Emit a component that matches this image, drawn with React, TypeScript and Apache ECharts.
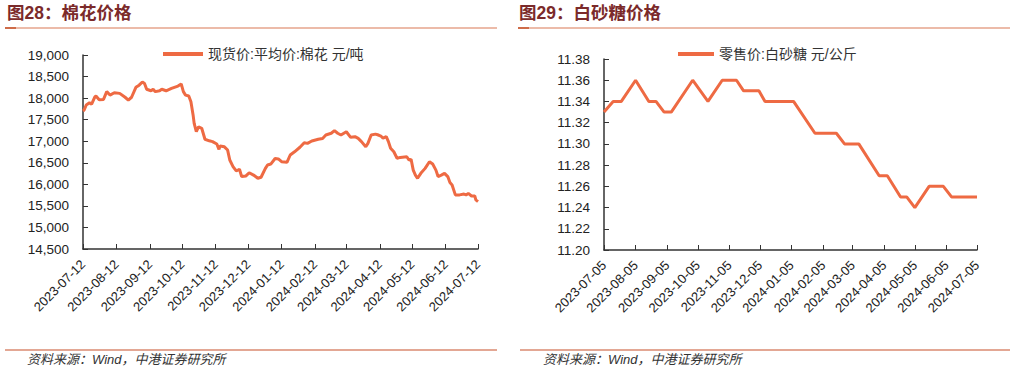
import React, { useEffect, useRef } from "react";
import * as echarts from "echarts";

// ---- Cotton (left) ----
const cottonName = "现货价:平均价:棉花 元/吨";
const cottonDates = [
  "2023-07-12", "2023-07-13", "2023-07-15", "2023-07-18", "2023-07-20", "2023-07-23", "2023-07-24", "2023-07-27", "2023-07-31",
  "2023-08-03", "2023-08-06", "2023-08-10", "2023-08-15", "2023-08-20", "2023-08-23", "2023-08-26", "2023-08-30",
  "2023-09-02", "2023-09-05", "2023-09-07", "2023-09-09", "2023-09-13", "2023-09-15", "2023-09-17", "2023-09-21", "2023-09-23", "2023-09-27",
  "2023-10-02", "2023-10-08", "2023-10-11", "2023-10-13", "2023-10-15", "2023-10-18", "2023-10-20", "2023-10-22", "2023-10-23", "2023-10-25", "2023-10-27", "2023-10-30",
  "2023-11-02", "2023-11-06", "2023-11-09", "2023-11-13", "2023-11-15", "2023-11-16", "2023-11-20", "2023-11-23", "2023-11-25", "2023-11-28",
  "2023-12-01", "2023-12-04", "2023-12-06", "2023-12-10", "2023-12-13", "2023-12-17", "2023-12-21", "2023-12-24", "2023-12-28", "2023-12-30",
  "2024-01-02", "2024-01-06", "2024-01-09", "2024-01-12", "2024-01-17", "2024-01-20", "2024-01-24", "2024-01-29",
  "2024-02-02", "2024-02-05", "2024-02-09", "2024-02-15", "2024-02-19", "2024-02-22", "2024-02-27",
  "2024-03-01", "2024-03-04", "2024-03-07", "2024-03-12", "2024-03-16", "2024-03-20", "2024-03-23", "2024-03-26", "2024-03-30",
  "2024-04-01", "2024-04-04", "2024-04-08", "2024-04-10", "2024-04-13", "2024-04-15", "2024-04-18", "2024-04-20", "2024-04-22", "2024-04-25", "2024-04-28",
  "2024-05-01", "2024-05-07", "2024-05-09", "2024-05-11", "2024-05-13", "2024-05-15", "2024-05-17", "2024-05-20", "2024-05-24", "2024-05-28", "2024-05-31",
  "2024-06-03", "2024-06-05", "2024-06-08", "2024-06-11", "2024-06-14", "2024-06-16", "2024-06-18", "2024-06-21", "2024-06-25", "2024-06-29",
  "2024-07-01", "2024-07-03", "2024-07-06", "2024-07-09", "2024-07-10", "2024-07-12",
];
const cottonValues = [
  17700, 17720, 17840, 17890, 17860, 18030, 18050, 17960, 17970,
  18150, 18070, 18125, 18110, 18020, 17955, 18020, 18250,
  18300, 18375, 18340, 18205, 18170, 18205, 18150, 18170, 18205, 18170,
  18225, 18280, 18330, 18150, 18070, 18050, 17915, 17610, 17415, 17220, 17335, 17300,
  17045, 17010, 16990, 16935, 16810, 16890, 16870, 16795, 16565, 16410,
  16310, 16350, 16180, 16195, 16270, 16215, 16140, 16165, 16370, 16450,
  16470, 16600, 16590, 16525, 16510, 16680, 16755, 16860,
  16965, 16950, 17005, 17045, 17065, 17145, 17185,
  17245, 17185, 17145, 17220, 17090, 17105, 17065, 16990, 16870,
  16950, 17145, 17165, 17150, 17120, 17070, 17105, 16990, 16835, 16755, 16605,
  16625, 16640, 16565, 16580, 16330, 16215, 16140, 16255, 16370, 16525, 16470,
  16330, 16180, 16215, 16255, 16180, 16040, 15985, 15755, 15755, 15775,
  15755, 15790, 15730, 15730, 15640, 15600,
];
const cottonStart = "2023-07-12";
const cottonEnd = "2024-07-12";
const cottonTickDay = "12";

// ---- Sugar (right) ----
const sugarName = "零售价:白砂糖 元/公斤";
const sugarDates = [
  "2023-07-05", "2023-07-14", "2023-07-22", "2023-08-05", "2023-08-18", "2023-08-25", "2023-09-02", "2023-09-09", "2023-09-30",
  "2023-10-15", "2023-10-29", "2023-11-12", "2023-11-19", "2023-12-04", "2023-12-10", "2024-01-07", "2024-01-28",
  "2024-02-18", "2024-02-26", "2024-03-11", "2024-03-31", "2024-04-08", "2024-04-21", "2024-04-27", "2024-05-05",
  "2024-05-19", "2024-06-02", "2024-06-10", "2024-07-05",
];
const sugarValues = [
  11.33, 11.34, 11.34, 11.36, 11.34, 11.34, 11.33, 11.33, 11.36,
  11.34, 11.36, 11.36, 11.35, 11.35, 11.34, 11.34, 11.31,
  11.31, 11.30, 11.30, 11.27, 11.27, 11.25, 11.25, 11.24,
  11.26, 11.26, 11.25, 11.25,
];
const sugarStart = "2023-07-05";
const sugarEnd = "2024-07-05";
const sugarTickDay = "05";

const titleLeft = "图28：棉花价格";
const titleRight = "图29：白砂糖价格";
const sourceText = "资料来源：Wind，中港证券研究所";

const FONT = "'Liberation Sans', Arial, 'Noto Sans CJK SC', sans-serif";
const LINE_COLOR = "#EE6A43";

function dayRange(start: string, end: string): string[] {
  const out: string[] = [];
  const d = new Date(start + "T00:00:00Z");
  const e = new Date(end + "T00:00:00Z");
  while (d.getTime() <= e.getTime()) {
    out.push(d.toISOString().slice(0, 10));
    d.setUTCDate(d.getUTCDate() + 1);
  }
  return out;
}

export default function App() {
  const ref = useRef<HTMLDivElement>(null);
  useEffect(() => {
    if (!ref.current) return;
    const chart = echarts.init(ref.current, null, { renderer: "svg" });
    const cDays = dayRange(cottonStart, cottonEnd);
    const sDays = dayRange(sugarStart, sugarEnd);
    const cData = cottonDates.map((d, i) => [d, cottonValues[i]]);
    const sData = sugarDates.map((d, i) => [d, sugarValues[i]]);

    const xAxisBase = (days: string[], tickDay: string, gridIndex: number) => ({
      type: "category",
      gridIndex,
      data: days,
      boundaryGap: false,
      axisLine: { lineStyle: { color: "#333", width: 1.5 } },
      axisTick: {
        inside: true,
        length: 5,
        interval: (_i: number, v: string) => v.slice(8) === tickDay,
        lineStyle: { color: "#333" },
      },
      axisLabel: {
        interval: (_i: number, v: string) => v.slice(8) === tickDay,
        rotate: 45,
        margin: 13,
        fontSize: 13,
        color: "#222",
        fontFamily: FONT,
      },
      splitLine: { show: false },
    });

    const yAxisBase = (gridIndex: number, min: number, max: number, interval: number, fmt: (v: number) => string) => ({
      type: "value",
      gridIndex,
      min,
      max,
      interval,
      axisLine: { show: true, lineStyle: { color: "#333", width: 1.5 } },
      axisTick: { show: true, inside: true, length: 5, lineStyle: { color: "#333" } },
      axisLabel: { fontSize: 13.5, color: "#222", fontFamily: FONT, margin: 14, formatter: fmt },
      splitLine: { show: false },
    });

    chart.setOption({
      animation: false,
      backgroundColor: "#fff",
      textStyle: { fontFamily: FONT },
      grid: [
        { left: 83, top: 55, width: 395, height: 194 },
        { left: 604, top: 59, width: 373, height: 191 },
      ],
      legend: [
        {
          data: [cottonName],
          left: 163,
          top: 47,
          padding: 0,
          icon: "rect",
          itemWidth: 40,
          itemHeight: 4,
          textStyle: { fontSize: 14, color: "#333", fontFamily: FONT },
        },
        {
          data: [sugarName],
          left: 678,
          top: 47,
          padding: 0,
          icon: "rect",
          itemWidth: 36,
          itemHeight: 4,
          textStyle: { fontSize: 14, color: "#333", fontFamily: FONT },
        },
      ],
      xAxis: [xAxisBase(cDays, cottonTickDay, 0), xAxisBase(sDays, sugarTickDay, 1)],
      yAxis: [
        yAxisBase(0, 14500, 19000, 500, (v: number) => v.toLocaleString("en-US")),
        yAxisBase(1, 11.2, 11.38, 0.02, (v: number) => v.toFixed(2)),
      ],
      series: [
        {
          name: cottonName,
          type: "line",
          xAxisIndex: 0,
          yAxisIndex: 0,
          data: cData,
          showSymbol: false,
          symbol: "none",
          lineStyle: { color: LINE_COLOR, width: 3 },
          itemStyle: { color: LINE_COLOR },
        },
        {
          name: sugarName,
          type: "line",
          xAxisIndex: 1,
          yAxisIndex: 1,
          data: sData,
          showSymbol: false,
          symbol: "none",
          lineStyle: { color: LINE_COLOR, width: 3 },
          itemStyle: { color: LINE_COLOR },
        },
      ],
      graphic: [
        { type: "text", left: 7, top: 4, style: { text: titleLeft, fontSize: 17.5, fontWeight: "bold", fill: "#7B2A2A", fontFamily: FONT } },
        { type: "text", left: 519, top: 4, style: { text: titleRight, fontSize: 17.5, fontWeight: "bold", fill: "#7B2A2A", fontFamily: FONT } },
        { type: "line", shape: { x1: 5, y1: 28, x2: 497, y2: 28 }, style: { stroke: "#E6A58D", lineWidth: 1.5 } },
        { type: "line", shape: { x1: 5, y1: 28, x2: 16, y2: 28 }, style: { stroke: "#C4522A", lineWidth: 1.5 } },
        { type: "line", shape: { x1: 518, y1: 28, x2: 1010, y2: 28 }, style: { stroke: "#E6A58D", lineWidth: 1.5 } },
        { type: "line", shape: { x1: 518, y1: 28, x2: 529, y2: 28 }, style: { stroke: "#C4522A", lineWidth: 1.5 } },
        { type: "line", shape: { x1: 5, y1: 350, x2: 497, y2: 350 }, style: { stroke: "#C8502A", lineWidth: 1.2 } },
        { type: "line", shape: { x1: 520, y1: 350, x2: 1010, y2: 350 }, style: { stroke: "#C8502A", lineWidth: 1.2 } },
        { type: "text", left: 27, top: 353, style: { text: sourceText, fontSize: 13, fontStyle: "italic", fill: "#333", fontFamily: FONT } },
        { type: "text", left: 543, top: 353, style: { text: sourceText, fontSize: 13, fontStyle: "italic", fill: "#333", fontFamily: FONT } },
      ],
    });
    return () => chart.dispose();
  }, []);
  return <div ref={ref} style={{ position: "fixed", left: 0, top: 0, width: 1017, height: 372 }} />;
}
